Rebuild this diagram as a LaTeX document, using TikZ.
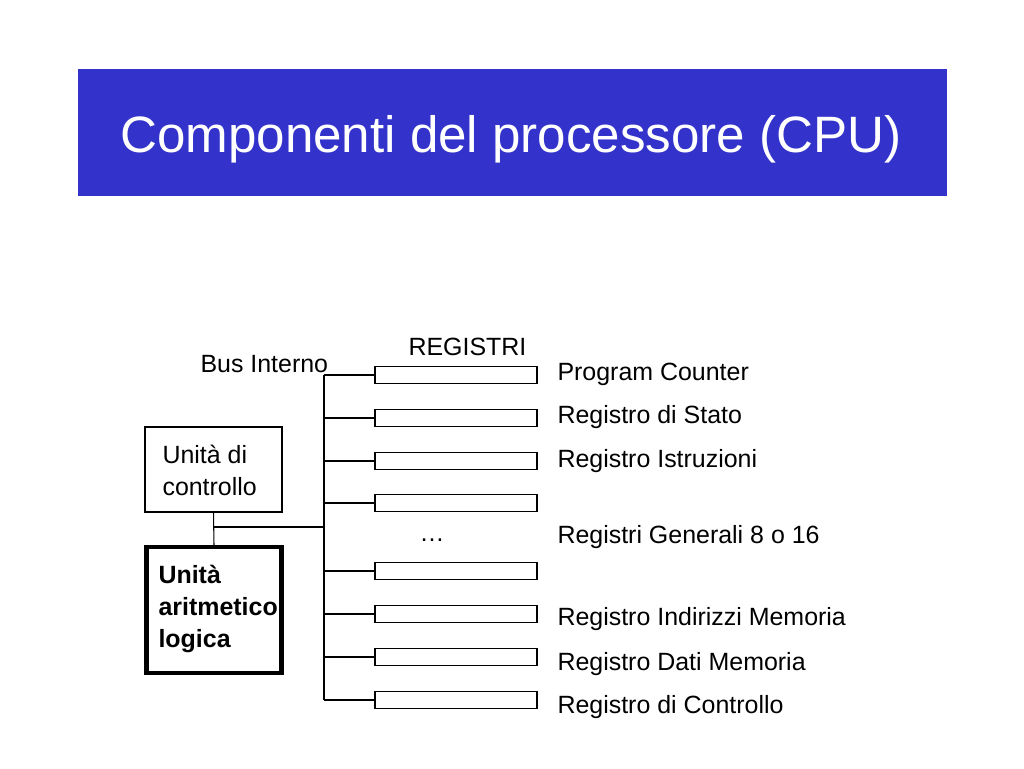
\documentclass[tikz,border=0pt]{standalone}
\usepackage{fontspec}
\setmainfont{Liberation Sans}
\usetikzlibrary{positioning}
\definecolor{titleblue}{RGB}{51,51,204}
\tikzstyle{regbox} = [rectangle, draw, minimum width=3.24cm, minimum height=0.34cm, inner sep=0pt]
\tikzstyle{unit} = [rectangle, draw, minimum width=2.74cm, minimum height=1.7cm, inner sep=0pt]
\tikzstyle{lbl} = [anchor=base west, inner sep=0pt, font=\fontsize{14.2}{18}\selectfont]

\begin{document}
\begin{tikzpicture}[x=0.02cm,y=-0.02cm,line width=0.6pt]
  \useasboundingbox (0,0) rectangle (1024,768);

  % titolo
  \node[fill=titleblue, anchor=north west, inner sep=0pt,
        minimum width=17.4cm, minimum height=2.54cm] (head) at (77,68) {};
  \node[anchor=base, inner sep=0pt, text=white,
        font=\fontsize{29.1}{34}\selectfont] (title) at (511,152)
        {Componenti del processore (CPU)};

  % registri
  \foreach \n/\y in {1/375,2/418,3/461,4/503,5/571,6/614,7/657,8/700}
    \node[regbox] (r\n) at (456,\y) {};
  \node[lbl] (reg)  at (408,355) {REGISTRI};
  \node[lbl] (pc)   at (557,380) {Program Counter};
  \node[lbl] (st)   at (557,423) {Registro di Stato};
  \node[lbl] (ir)   at (557,467) {Registro Istruzioni};
  \node[lbl] (gen)  at (557,543) {Registri Generali 8 o 16};
  \node[lbl] (mar)  at (557,625) {Registro Indirizzi Memoria};
  \node[lbl] (mdr)  at (557,670) {Registro Dati Memoria};
  \node[lbl] (ctl)  at (557,713) {Registro di Controllo};
  \node[lbl, anchor=center] (dots) at (432,540) {…};

  % unita (base = ultima riga)
  \node[unit] (cu) at (213.5,469.5) {};
  \node[lbl, align=left] (cutxt) at (162,495) {Unità di\\controllo};
  \node[unit, line width=2.3pt, minimum width=2.7cm, minimum height=2.52cm] (alu) at (214,610) {};
  \node[lbl, align=left, font=\fontsize{14.2}{18}\selectfont\bfseries] (alutxt) at (158,647)
    {Unità\\aritmetico\\logica};

  % bus interno
  \node[lbl] (bus) at (200,372) {Bus Interno};
  \coordinate (busTop) at (324,375);
  \coordinate (busBot) at (324,700);
  \coordinate (cuJoin) at (213.5,527);
  \draw (busTop) -- (busBot);
  \foreach \n in {1,...,8}
    \draw (r\n.west -| busTop) -- (r\n.west);
  \draw (cu.south) -- (alu.north);
  \draw (cuJoin) -- (cuJoin -| busTop);
\end{tikzpicture}
\end{document}
